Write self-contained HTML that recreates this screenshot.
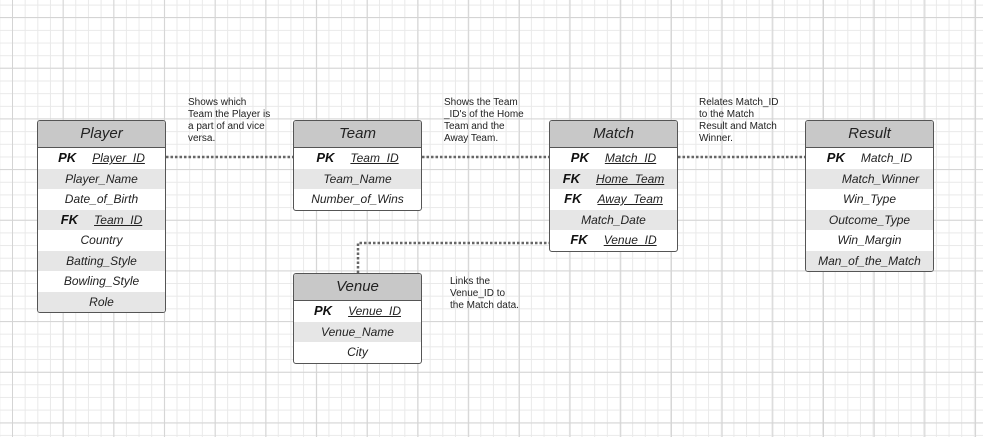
<!DOCTYPE html>
<html><head><meta charset="utf-8"><style>
body{margin:0;width:983px;height:437px;overflow:hidden;position:relative;font-family:"Liberation Sans",sans-serif;
background-color:#fff;
background-image:
linear-gradient(to right,#d4d4d4 1px,transparent 1px),
linear-gradient(to bottom,#d4d4d4 1px,transparent 1px),
linear-gradient(to right,#e9e9e9 1px,transparent 1px),
linear-gradient(to bottom,#e9e9e9 1px,transparent 1px);
background-size:50.7px 50.7px,50.7px 50.7px,12.67px 12.67px,12.67px 12.67px;
background-position:12px 17px,12px 17px,12px 4.6px,12px 4.6px;}
.t{position:absolute;width:127px;border:1px solid #555;border-radius:3px;background:#fff;overflow:hidden;font-style:italic;color:#222}
.h{height:26px;background:#c8c8c8;border-bottom:1px solid #555;text-align:center;font-size:15px;line-height:26px}
.r{height:20.5px;line-height:20.5px;font-size:12px;text-align:center;display:flex;justify-content:center;gap:16px}
.r:nth-child(odd){background:#e6e6e6}
.k{font-weight:bold;font-size:13px;color:#111}
u{text-decoration:underline}
.n{position:absolute;font-size:10px;line-height:12px;color:#222}
svg{position:absolute;left:0;top:0}
</style></head><body>
<svg width="983" height="437"><g stroke="#666" stroke-width="2.5" stroke-dasharray="2.5 2" fill="none">
<line x1="166" y1="157" x2="293" y2="157"/>
<line x1="422" y1="157" x2="549" y2="157"/>
<line x1="678" y1="157" x2="805" y2="157"/>
<polyline points="358,273 358,243 549,243"/>
</g></svg>
<div class="t" style="left:37px;top:120px"><div class="h">Player</div>
<div class="r"><span class="k">PK</span><u>Player_ID</u></div>
<div class="r">Player_Name</div><div class="r">Date_of_Birth</div>
<div class="r"><span class="k">FK</span><u>Team_ID</u></div>
<div class="r">Country</div><div class="r">Batting_Style</div><div class="r">Bowling_Style</div><div class="r">Role</div></div>
<div class="t" style="left:293px;top:120px"><div class="h">Team</div>
<div class="r"><span class="k">PK</span><u>Team_ID</u></div>
<div class="r">Team_Name</div><div class="r">Number_of_Wins</div></div>
<div class="t" style="left:549px;top:120px"><div class="h">Match</div>
<div class="r"><span class="k">PK</span><u>Match_ID</u></div>
<div class="r"><span class="k">FK</span><u>Home_Team</u></div>
<div class="r"><span class="k">FK</span><u>Away_Team</u></div>
<div class="r">Match_Date</div>
<div class="r"><span class="k">FK</span><u>Venue_ID</u></div></div>
<div class="t" style="left:805px;top:120px"><div class="h">Result</div>
<div class="r"><span class="k">PK</span>Match_ID</div>
<div class="r" style="padding-left:22px">Match_Winner</div><div class="r">Win_Type</div><div class="r">Outcome_Type</div><div class="r">Win_Margin</div><div class="r">Man_of_the_Match</div></div>
<div class="t" style="left:293px;top:273px"><div class="h">Venue</div>
<div class="r"><span class="k">PK</span><u>Venue_ID</u></div>
<div class="r">Venue_Name</div><div class="r">City</div></div>
<div class="n" style="left:188px;top:97px">Shows which<br>Team the Player is<br>a part of and vice<br>versa.</div>
<div class="n" style="left:444px;top:97px">Shows the Team<br>_ID's of the Home<br>Team and the<br>Away Team.</div>
<div class="n" style="left:699px;top:97px">Relates Match_ID<br>to the Match<br>Result and Match<br>Winner.</div>
<div class="n" style="left:450px;top:276px">Links the<br>Venue_ID to<br>the Match data.</div>
</body></html>
